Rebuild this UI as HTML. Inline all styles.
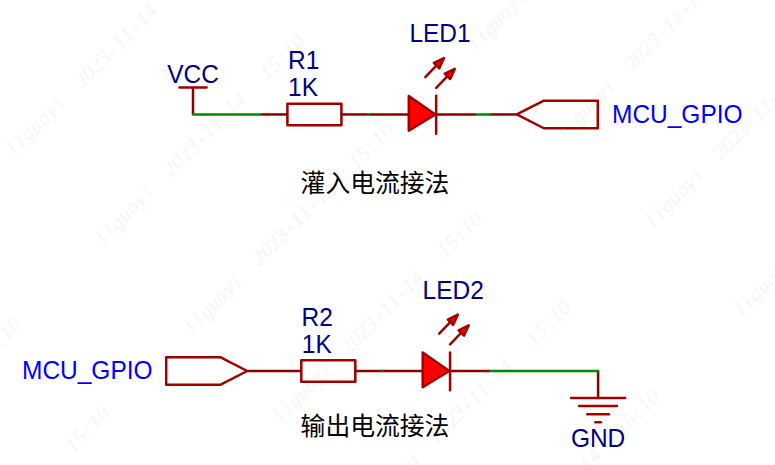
<!DOCTYPE html>
<html><head><meta charset="utf-8"><title>LED circuits</title>
<style>
html,body{margin:0;padding:0;background:#fff;}
body{width:775px;height:465px;overflow:hidden;}
svg{display:block;font-family:"Liberation Sans",sans-serif;}
.wm text{font-family:"Liberation Serif",serif;font-style:italic;fill:#f6f6f6;font-size:21px;text-anchor:middle;}
</style></head><body>
<svg width="775" height="465" viewBox="0 0 775 465">
<rect width="775" height="465" fill="#fff"/>
<g class="wm"><text transform="translate(-6.8 0.2) rotate(-45)" x="5.4 16.3 27.1 38 48.8 59.7 70.5 81.4 92.2 103.1">2023-11-14</text>
<text transform="translate(13.4 157.6) rotate(-45)" x="5.4 16.3 27.1 38 48.8 59.7 70.5">liguoyi</text>
<text transform="translate(82 89) rotate(-45)" x="5.4 16.3 27.1 38 48.8 59.7 70.5 81.4 92.2 103.1">2023-11-14</text>
<text transform="translate(-15.9 364.5) rotate(-45)" x="5.4 16.3 27.1 38 48.8">15:10</text>
<text transform="translate(102.2 246.4) rotate(-45)" x="5.4 16.3 27.1 38 48.8 59.7 70.5">liguoyi</text>
<text transform="translate(170.8 177.8) rotate(-45)" x="5.4 16.3 27.1 38 48.8 59.7 70.5 81.4 92.2 103.1">2023-11-14</text>
<text transform="translate(267.6 81) rotate(-45)" x="5.4 16.3 27.1 38 48.8">15:10</text>
<text transform="translate(72.9 453.3) rotate(-45)" x="5.4 16.3 27.1 38 48.8">15:10</text>
<text transform="translate(191 335.2) rotate(-45)" x="5.4 16.3 27.1 38 48.8 59.7 70.5">liguoyi</text>
<text transform="translate(259.6 266.6) rotate(-45)" x="5.4 16.3 27.1 38 48.8 59.7 70.5 81.4 92.2 103.1">2023-11-14</text>
<text transform="translate(356.4 169.8) rotate(-45)" x="5.4 16.3 27.1 38 48.8">15:10</text>
<text transform="translate(474.5 51.7) rotate(-45)" x="5.4 16.3 27.1 38 48.8 59.7 70.5">liguoyi</text>
<text transform="translate(279.8 424) rotate(-45)" x="5.4 16.3 27.1 38 48.8 59.7 70.5">liguoyi</text>
<text transform="translate(348.4 355.4) rotate(-45)" x="5.4 16.3 27.1 38 48.8 59.7 70.5 81.4 92.2 103.1">2023-11-14</text>
<text transform="translate(445.2 258.6) rotate(-45)" x="5.4 16.3 27.1 38 48.8">15:10</text>
<text transform="translate(563.3 140.5) rotate(-45)" x="5.4 16.3 27.1 38 48.8 59.7 70.5">liguoyi</text>
<text transform="translate(631.9 71.9) rotate(-45)" x="5.4 16.3 27.1 38 48.8 59.7 70.5 81.4 92.2 103.1">2023-11-14</text>
<text transform="translate(368.6 512.8) rotate(-45)" x="5.4 16.3 27.1 38 48.8 59.7 70.5">liguoyi</text>
<text transform="translate(437.2 444.2) rotate(-45)" x="5.4 16.3 27.1 38 48.8 59.7 70.5 81.4 92.2 103.1">2023-11-14</text>
<text transform="translate(534 347.4) rotate(-45)" x="5.4 16.3 27.1 38 48.8">15:10</text>
<text transform="translate(652.1 229.3) rotate(-45)" x="5.4 16.3 27.1 38 48.8 59.7 70.5">liguoyi</text>
<text transform="translate(720.7 160.7) rotate(-45)" x="5.4 16.3 27.1 38 48.8 59.7 70.5 81.4 92.2 103.1">2023-11-14</text>
<text transform="translate(526 533) rotate(-45)" x="5.4 16.3 27.1 38 48.8 59.7 70.5 81.4 92.2 103.1">2023-11-14</text>
<text transform="translate(622.8 436.2) rotate(-45)" x="5.4 16.3 27.1 38 48.8">15:10</text>
<text transform="translate(740.9 318.1) rotate(-45)" x="5.4 16.3 27.1 38 48.8 59.7 70.5">liguoyi</text></g>
<line x1="179.5" y1="87.45" x2="206.5" y2="87.45" stroke="#A00000" stroke-width="2.5" stroke-linecap="round"/>
<line x1="193" y1="87.45" x2="193" y2="114.45" stroke="#880000" stroke-width="2.5" stroke-linecap="butt"/>
<text transform="translate(167.2 83.4) scale(1 1.063)" fill="#000080" font-size="24.5" text-anchor="start">VCC</text>
<rect x="287.4" y="103.65" width="54" height="21.6" fill="none" stroke="#A00000" stroke-width="2.5" stroke-linejoin="round"/>
<line x1="260.3" y1="114.45" x2="287.9" y2="114.45" stroke="#880000" stroke-width="2.5" stroke-linecap="butt"/>
<line x1="340.9" y1="114.45" x2="368.3" y2="114.45" stroke="#880000" stroke-width="2.5" stroke-linecap="butt"/>
<text transform="translate(288 68.6) scale(1 1.063)" fill="#000080" font-size="24.5">R</text>
<text transform="translate(305.69 68.6) scale(1 1.063)" fill="#000080" font-size="24.5">1</text>
<text transform="translate(288 95.6) scale(1 1.063)" fill="#000080" font-size="24.5">1</text>
<text transform="translate(301.63 95.6) scale(1 1.063)" fill="#000080" font-size="24.5">K</text>
<line x1="368.3" y1="114.45" x2="408.8" y2="114.45" stroke="#880000" stroke-width="2.5" stroke-linecap="butt"/>
<line x1="435.8" y1="114.45" x2="476.3" y2="114.45" stroke="#880000" stroke-width="2.5" stroke-linecap="butt"/>
<path d="M408.8 95.95 L435.4 114.45 L408.8 130.65 Z" fill="#FF0000" stroke="#A00000" stroke-width="2.5" stroke-linejoin="round"/>
<line x1="436.15" y1="95.85" x2="436.15" y2="133.65" stroke="#A00000" stroke-width="2.5" stroke-linecap="round"/>
<line x1="425.3" y1="77.05" x2="441.1" y2="60.65" stroke="#A00000" stroke-width="2.5" stroke-linecap="round"/>
<path d="M444 58.05 L433.9 62.95 L439.3 68.25 Z" fill="#FF0000" stroke="#A00000" stroke-width="2.5" stroke-linejoin="round"/>
<line x1="436.15" y1="87.8" x2="451.95" y2="71.4" stroke="#A00000" stroke-width="2.5" stroke-linecap="round"/>
<path d="M454.85 68.8 L444.75 73.7 L450.15 79 Z" fill="#FF0000" stroke="#A00000" stroke-width="2.5" stroke-linejoin="round"/>
<text transform="translate(409.4 41.7) scale(1 1.063)" fill="#000080" font-size="24.5">LED</text>
<text transform="translate(457.06 41.7) scale(1 1.063)" fill="#000080" font-size="24.5">1</text>
<line x1="489.8" y1="114.45" x2="516.8" y2="114.45" stroke="#880000" stroke-width="2.5" stroke-linecap="butt"/>
<path d="M516.8 114.45 L543.8 100.65 L597.8 100.65 L597.8 128.25 L543.8 128.25 Z" fill="none" stroke="#A00000" stroke-width="2.5" stroke-linejoin="round"/>
<text transform="translate(612 122.8) scale(1 1.063)" fill="#0000FF" font-size="24.5" text-anchor="start">MCU_GPIO</text>
<text transform="translate(22 379.4) scale(1 1.063)" fill="#0000FF" font-size="24.5" text-anchor="start">MCU_GPIO</text>
<path d="M247.2 371 L220.2 357.2 L166.2 357.2 L166.2 384.8 L220.2 384.8 Z" fill="none" stroke="#A00000" stroke-width="2.5" stroke-linejoin="round"/>
<line x1="247.2" y1="371" x2="274.2" y2="371" stroke="#880000" stroke-width="2.5" stroke-linecap="butt"/>
<rect x="301.3" y="360.2" width="54" height="21.6" fill="none" stroke="#A00000" stroke-width="2.5" stroke-linejoin="round"/>
<line x1="274.2" y1="371" x2="301.8" y2="371" stroke="#880000" stroke-width="2.5" stroke-linecap="butt"/>
<line x1="354.8" y1="371" x2="382.2" y2="371" stroke="#880000" stroke-width="2.5" stroke-linecap="butt"/>
<text transform="translate(301.6 325.6) scale(1 1.063)" fill="#000080" font-size="24.5" text-anchor="start">R2</text>
<text transform="translate(301.8 352.7) scale(1 1.063)" fill="#000080" font-size="24.5">1</text>
<text transform="translate(315.43 352.7) scale(1 1.063)" fill="#000080" font-size="24.5">K</text>
<line x1="382.2" y1="371" x2="422.7" y2="371" stroke="#880000" stroke-width="2.5" stroke-linecap="butt"/>
<line x1="449.7" y1="371" x2="490.2" y2="371" stroke="#880000" stroke-width="2.5" stroke-linecap="butt"/>
<path d="M422.7 352.5 L449.3 371 L422.7 387.2 Z" fill="#FF0000" stroke="#A00000" stroke-width="2.5" stroke-linejoin="round"/>
<line x1="450.05" y1="352.4" x2="450.05" y2="390.2" stroke="#A00000" stroke-width="2.5" stroke-linecap="round"/>
<line x1="439.2" y1="333.6" x2="455" y2="317.2" stroke="#A00000" stroke-width="2.5" stroke-linecap="round"/>
<path d="M457.9 314.6 L447.8 319.5 L453.2 324.8 Z" fill="#FF0000" stroke="#A00000" stroke-width="2.5" stroke-linejoin="round"/>
<line x1="450.05" y1="344.35" x2="465.85" y2="327.95" stroke="#A00000" stroke-width="2.5" stroke-linecap="round"/>
<path d="M468.75 325.35 L458.65 330.25 L464.05 335.55 Z" fill="#FF0000" stroke="#A00000" stroke-width="2.5" stroke-linejoin="round"/>
<text transform="translate(422.6 299.4) scale(1 1.063)" fill="#000080" font-size="24.5" text-anchor="start">LED2</text>
<line x1="598.1" y1="371" x2="598.1" y2="398" stroke="#880000" stroke-width="2.5" stroke-linecap="butt"/>
<line x1="571.1" y1="398" x2="625.1" y2="398" stroke="#A00000" stroke-width="2.5" stroke-linecap="round"/>
<line x1="579.2" y1="406.1" x2="617" y2="406.1" stroke="#A00000" stroke-width="2.5" stroke-linecap="round"/>
<line x1="587.3" y1="414.2" x2="608.9" y2="414.2" stroke="#A00000" stroke-width="2.5" stroke-linecap="round"/>
<line x1="595.4" y1="422.3" x2="600.8" y2="422.3" stroke="#A00000" stroke-width="2.5" stroke-linecap="round"/>
<text transform="translate(598.1 446.9) scale(1 1.063)" fill="#000080" font-size="24.5" text-anchor="middle">GND</text>
<line x1="193" y1="114.45" x2="260.3" y2="114.45" stroke="#008800" stroke-width="2.5" stroke-linecap="round"/>
<line x1="476.3" y1="114.45" x2="490.1" y2="114.45" stroke="#008800" stroke-width="2.5" stroke-linecap="round"/>
<line x1="490.2" y1="371" x2="598.1" y2="371" stroke="#008800" stroke-width="2.5" stroke-linecap="round"/>
<circle cx="368.5" cy="114.45" r="1.25" fill="#008800"/>
<circle cx="274.2" cy="371" r="1.25" fill="#7a1500"/>
<circle cx="382" cy="371" r="1.25" fill="#008800"/>
<text x="375" y="191.6" fill="#000" font-size="24.8" text-anchor="middle" font-family="&quot;Liberation Sans&quot;, &quot;Noto Sans CJK SC&quot;, sans-serif">灌入电流接法</text>
<text x="375" y="434.6" fill="#000" font-size="24.8" text-anchor="middle" font-family="&quot;Liberation Sans&quot;, &quot;Noto Sans CJK SC&quot;, sans-serif">输出电流接法</text>
</svg>
</body></html>
